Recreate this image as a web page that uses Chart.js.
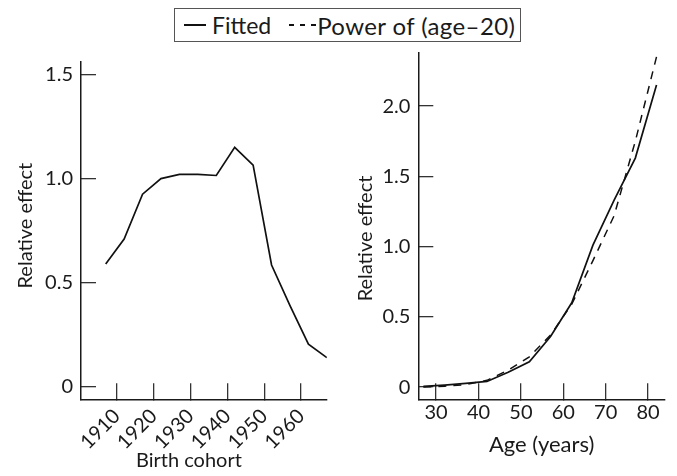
<!DOCTYPE html>
<html>
<head>
<meta charset="utf-8">
<script src="https://cdn.jsdelivr.net/npm/chart.js@4.4.1/dist/chart.umd.min.js"></script>
<style>
  body { margin: 0; background: #fff; width: 677px; height: 476px; position: relative; overflow: hidden; font-family: Lato, sans-serif; color: #1a1a1a; }
  canvas { position: absolute; top: 0; }
  #cohort-chart { left: 0; }
  #age-chart { left: 340px; }
  #legend { position: absolute; left: 174px; top: 8px; width: 345px; height: 32px; border: 1.5px solid #555; display: flex; align-items: center; font-size: 23px; white-space: nowrap; }
  .sample { display: inline-block; width: 22px; height: 1.8px; background: #111; margin: 0 6px 0 9px; }
  .sample.dashed { width: 27px; background: repeating-linear-gradient(to right, #111 0 5px, transparent 5px 11px); margin-left: 18px; margin-right: 1px; }
  .power { font-size: 24px; letter-spacing: 0.4px; }
</style>
</head>
<body>
<div id="legend">
  <span class="sample"></span><span>Fitted</span>
  <span class="sample dashed"></span><span class="power">Power of (age–20)</span>
</div>
<canvas id="cohort-chart" width="340" height="476"></canvas>
<canvas id="age-chart" width="337" height="476"></canvas>
<script>
// birth cohort panel
const cohortYears = [1907, 1912, 1917, 1922, 1927, 1932, 1937, 1942, 1947, 1952, 1957, 1962, 1967];
const cohortEffect = [0.59, 0.71, 0.925, 1.0, 1.02, 1.02, 1.015, 1.15, 1.065, 0.585, 0.39, 0.205, 0.14];
const cohortTicks = [1910, 1920, 1930, 1940, 1950, 1960];
const cohortYTicks = [0, 0.5, 1.0, 1.5];

// age panel
const ages = [27, 32, 37, 42, 47, 52, 57, 62, 67, 72, 77, 82];
const fittedEffect = [0.005, 0.014, 0.026, 0.04, 0.105, 0.18, 0.36, 0.6, 1.01, 1.33, 1.63, 2.15];
const powerEffect = [0.001, 0.006, 0.018, 0.048, 0.12, 0.215, 0.37, 0.59, 0.9, 1.22, 1.75, 2.35];
const ageTicks = [30, 40, 50, 60, 70, 80];
const ageYTicks = [0, 0.5, 1.0, 1.5, 2.0];

const INK = '#1a1a1a';
const tickFont = { family: 'Lato', size: 20 };

const fmtY = v => v === 0 ? '0' : v.toFixed(1);

// negative tickLength puts the tick marks inside the plot, as in the figure
function xAxis(min, max, ticks, title, opts) {
    return {
        type: 'linear', min, max,
        afterBuildTicks: s => { s.ticks = ticks.map(v => ({ value: v })); },
        afterFit: s => { s.height = 76.7; },
        border: { color: INK, width: 1.5 },
        grid: { drawOnChartArea: false, tickLength: -16, color: '#333', lineWidth: 1.3 },
        ticks: Object.assign({ color: INK, font: tickFont, autoSkip: false, callback: v => String(v) }, opts.ticks),
        title: { display: true, text: title, color: INK, font: { family: 'Lato', size: opts.titleSize }, padding: opts.titlePad }
    };
}

function yAxis(min, max, ticks, width, title) {
    return {
        type: 'linear', min, max,
        afterBuildTicks: s => { s.ticks = ticks.map(v => ({ value: v })); },
        afterFit: s => { s.width = width; },
        border: { color: INK, width: 1.5 },
        grid: { drawOnChartArea: false, tickLength: -15, color: '#333', lineWidth: 1.3 },
        ticks: { color: INK, font: tickFont, padding: 23, callback: fmtY },
        title: { display: true, text: title, color: INK, font: { family: 'Lato', size: 20 }, padding: { top: 14, bottom: 0 } }
    };
}

const common = {
    responsive: false,
    animation: false,
    devicePixelRatio: 1,
    plugins: { legend: { display: false }, tooltip: { enabled: false } },
    elements: { point: { radius: 0 }, line: { tension: 0 } }
};

new Chart(document.getElementById('cohort-chart'), {
    type: 'line',
    data: {
        datasets: [{
            data: cohortYears.map((x, i) => ({ x, y: cohortEffect[i] })),
            borderColor: '#111', borderWidth: 1.7, fill: false
        }]
    },
    options: Object.assign({}, common, {
        layout: { padding: { left: 0, top: 62, right: 9.3, bottom: 0 } },
        scales: {
            x: xAxis(1900.3, 1967, cohortTicks, 'Birth cohort\u2002\u2002\u2002', {
                ticks: { minRotation: 45, maxRotation: 45, padding: 21 },
                titleSize: 20,
                titlePad: { top: 0, bottom: 3 }
            }),
            y: yAxis(-0.06, 1.56, cohortYTicks, 81, '\u2002Relative effect')
        }
    })
});

new Chart(document.getElementById('age-chart'), {
    type: 'line',
    data: {
        datasets: [{
            label: 'Fitted',
            data: ages.map((x, i) => ({ x, y: fittedEffect[i] })),
            borderColor: '#111', borderWidth: 1.7, fill: false
        }, {
            label: 'Power of (age–20)',
            data: ages.map((x, i) => ({ x, y: powerEffect[i] })),
            borderColor: '#111', borderWidth: 1.5, borderDash: [8, 7], fill: false
        }]
    },
    options: Object.assign({}, common, {
        layout: { padding: { left: 0, top: 52.7, right: 5.3, bottom: 0 } },
        scales: {
            x: xAxis(25.8, 84, ageTicks, 'Age (years)', {
                ticks: { maxRotation: 0, padding: 17 },
                titleSize: 22,
                titlePad: { top: 0, bottom: 18 }
            }),
            y: yAxis(-0.087, 2.38, ageYTicks, 78.3, 'Relative effect\u2003\u2002')
        }
    })
});
</script>
</body>
</html>
